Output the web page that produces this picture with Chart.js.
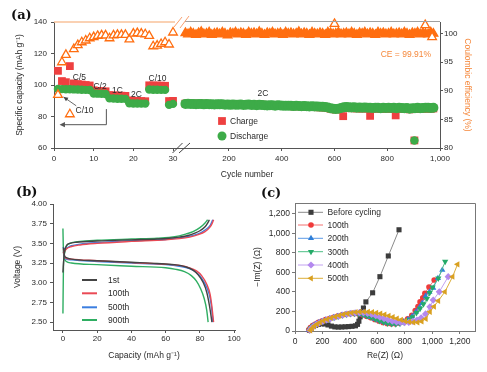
<!DOCTYPE html>
<html><head><meta charset="utf-8">
<script src="https://cdn.jsdelivr.net/npm/chart.js@4.4.0/dist/chart.umd.min.js"></script>
<style>
html,body{margin:0;padding:0;background:#fff;}
#wrap{position:relative;width:487px;height:372px;background:#fff;overflow:hidden;}
canvas{position:absolute;}
.lbl{position:absolute;font:bold 13px "DejaVu Serif",serif;color:#111;line-height:15px;}
</style></head><body>
<div id="wrap">
<canvas id="ca" width="487" height="186" style="left:0px;top:0px"></canvas>
<canvas id="cb" width="245" height="182" style="left:0px;top:190px"></canvas>
<canvas id="cc" width="242" height="182" style="left:245px;top:190px"></canvas>
<div class="lbl" style="left:11px;top:7px">(a)</div>
<div class="lbl" style="left:16px;top:184px">(b)</div>
<div class="lbl" style="left:261px;top:185px">(c)</div>
</div>
<script>
// ---------------- Panel (a) data ----------------
const earlyCycles = [1,2,3,4,5,6,7,8,9,10,11,12,13,14,15,16,17,18,19,20,21,22,23,24,25,26,27,28,29,30];
const earlyCharge = [109.0,102.5,101.8,112.0,101.0,100.6,100.3,100.0,99.7,96.6,96.3,96.1,96.0,93.6,93.4,93.3,93.2,93.1,90.2,90.0,89.9,89.8,89.7,99.8,99.7,99.7,99.6,99.5,89.8,89.9];
const earlyDischarge = [97.5,97.4,97.3,97.3,97.2,97.1,97.0,96.9,96.8,94.6,94.5,94.4,94.3,91.5,91.4,91.3,91.3,91.2,88.4,88.3,88.3,88.2,88.2,97.1,97.0,97.0,96.9,96.9,87.4,88.0];
const earlyCE = [89.3,95.0,96.3,85.9,97.3,98.0,98.5,98.8,99.2,99.4,99.6,99.7,99.7,99.2,99.7,99.8,99.8,99.8,99.0,100.0,100.1,100.0,99.9,99.6,97.8,97.9,98.2,98.5,98.1,100.2];

const lateCycles = [35,45,55,65,75,85,95,105,115,125,135,145,155,165,175,185,195,205,215,225,
235,245,255,265,275,285,295,305,315,325,335,345,355,365,375,385,395,405,415,425,
435,445,455,465,475,485,495,505,515,525,535,545,555,565,575,585,595,605,615,625,
635,645,655,665,675,685,695,705,715,725,735,745,755,765,775,785,795,805,815,825,
835,845,855,865,875,885,895,905,915,925,935,945,955,965,975];
const lateDischarge = [88.0,88.1,87.9,88.0,87.8,88.0,87.9,87.7,87.9,87.8,
87.8,87.6,87.8,87.7,87.8,87.5,87.6,87.4,87.6,87.5,
87.5,87.6,87.3,87.5,87.6,87.3,87.4,87.2,87.4,87.3,
87.2,87.0,87.2,87.1,86.9,87.1,87.0,86.8,86.9,86.8,
86.8,86.6,86.8,86.7,86.5,86.6,86.5,86.3,86.5,86.4,
86.3,86.2,86.2,86.0,85.7,85.3,85.0,84.8,85.0,85.4,
85.8,86.0,85.9,85.7,85.8,85.6,85.7,85.5,85.7,85.6,
85.6,85.4,85.6,85.5,85.3,85.5,85.4,85.6,85.4,85.5,
85.3,85.5,85.4,85.2,85.4,85.0,85.2,85.3,85.5,85.3,
85.4,85.6,85.5,85.4,85.6];
const lateCharge = [88.2,88.3,88.1,88.2,88.0,88.2,88.1,87.9,88.1,88.0,
88.0,87.8,88.0,87.9,88.0,87.7,87.8,87.6,87.8,87.7,
87.7,87.8,87.5,87.7,87.8,87.5,87.6,87.4,87.6,87.5,
87.3,87.1,87.3,87.2,87.0,87.2,87.1,86.9,87.0,86.9,
86.7,86.4,86.6,86.5,86.3,86.4,86.2,86.0,86.1,86.0,
85.9,85.8,85.8,85.6,85.3,84.9,84.6,84.4,84.6,85.0,
85.3,85.5,85.4,85.2,85.3,85.1,85.2,85.0,85.2,85.1,
85.1,84.9,85.1,85.0,84.8,85.0,84.9,85.1,84.9,85.0,
84.8,85.0,84.9,84.7,84.9,84.5,84.7,84.8,85.0,84.8,
84.9,85.1,85.0,84.9,85.1];
const lateCE = [100.1,99.9,100.2,100.0,99.8,100.1,100.3,99.9,100.0,100.2,
99.8,100.0,100.1,99.9,100.2,100.0,99.7,100.1,100.0,100.2,
99.9,100.1,100.0,99.8,100.2,100.0,100.1,99.9,100.3,100.0,
99.8,100.1,100.0,100.2,99.9,100.0,100.1,99.8,100.2,100.0,
100.1,99.9,100.0,100.3,99.9,100.1,100.0,99.8,100.2,100.0,
99.9,100.1,100.0,99.8,100.2,100.1,99.9,100.0,100.2,99.9,
100.0,100.1,99.9,100.2,100.0,99.8,100.1,100.0,100.2,99.9,
100.1,100.0,99.8,100.2,100.0,100.1,99.9,100.0,100.2,99.9,
100.0,100.1,99.9,100.2,100.0,99.8,100.1,100.0,100.2,99.9,
100.1,100.0,99.9,100.2,100.0];
const outlierChargeCycles = [633,735,832,903];
const outlierChargeValues = [80.2,80.4,80.7,64.8];
const outlierDischargeCycles = [903];
const outlierDischargeValues = [64.8];
const outlierCECycles = [600,944,970];
const outlierCEValues = [101.7,101.5,99.4];

const cycleTickValues = [0,10,20,30,200,400,600,800,1000];
const capacityTicks = [60,80,100,120,140];
const ceTicks = [80,85,90,95,100];

// ---------------- Panel (b) data: [capacity, voltage] ----------------
const c1Charge = [[0,3.13],[0.5,3.30],[1,3.40],[2,3.47],[4,3.50],[8,3.515],[20,3.53],[40,3.545],[55,3.555],[62,3.565],[68,3.58],[73,3.60],[77,3.63],[80,3.66],[83,3.71],[84.6,3.76],[85.5,3.80]];
const c1Discharge = [[0.3,3.45],[1,3.34],[2,3.32],[5,3.30],[20,3.28],[40,3.26],[55,3.245],[65,3.23],[72,3.20],[76,3.16],[79,3.10],[82,3.00],[84,2.88],[85.5,2.72],[86.5,2.58],[87,2.50]];
const c100Charge = [[0,3.38],[1,3.40],[2,3.43],[5,3.46],[10,3.48],[20,3.50],[40,3.525],[60,3.545],[68,3.56],[74,3.58],[79,3.61],[83,3.65],[86,3.71],[87.3,3.76],[88,3.80]];
const c100Discharge = [[0.3,3.43],[1,3.33],[2,3.31],[5,3.30],[20,3.28],[40,3.255],[60,3.235],[68,3.22],[74,3.19],[78,3.15],[81,3.09],[84,2.98],[86,2.85],[87,2.70],[87.6,2.58],[88,2.50]];
const c500Charge = [[0,3.45],[1,3.43],[2,3.44],[5,3.47],[10,3.49],[20,3.51],[40,3.535],[60,3.55],[68,3.57],[74,3.59],[79,3.62],[83,3.67],[86,3.73],[87.5,3.80]];
const c500Discharge = [[0.3,3.40],[1,3.32],[2,3.30],[5,3.29],[20,3.27],[40,3.25],[60,3.23],[68,3.21],[74,3.18],[78,3.13],[81,3.06],[84,2.94],[86,2.80],[87,2.65],[87.6,2.50]];
const c900Charge = [[0,2.61],[0.3,3.20],[1,3.38],[2,3.46],[4,3.50],[10,3.525],[20,3.54],[40,3.555],[55,3.565],[62,3.575],[68,3.595],[72,3.62],[76,3.65],[80,3.70],[83,3.76],[84.5,3.80]];
const c900Discharge = [[0,3.69],[0.3,3.40],[1,3.30],[2,3.27],[5,3.25],[20,3.23],[40,3.21],[60,3.19],[66,3.17],[71,3.14],[75,3.09],[78,3.02],[80.5,2.92],[82.5,2.80],[84,2.65],[84.8,2.50]];
const capTicks = [0,20,40,60,80,100];
const voltTicks = [2.50,2.75,3.00,3.25,3.50,3.75,4.00];
const cycleLabelsB = ['1st','100th','500th','900th'];

// ---------------- Panel (c) data: [Re(Z), -Im(Z)] ----------------
const eisBefore = [[105,8],[118,28],[132,45],[150,58],[170,68],[192,74],[215,72],[240,62],[265,50],[290,42],[315,40],[340,41],[365,43],[390,45],[415,48],[440,53],[455,68],[465,100],[474,145],[484,195],[498,235],[516,298],[565,391],[618,556],[679,768],[757,1036]];
const eis100 = [[100,12],[112,35],[128,55],[148,72],[170,88],[195,102],[222,116],[250,128],[280,140],[310,152],[340,163],[370,172],[400,178],[430,180],[460,176],[490,166],[520,152],[550,136],[580,118],[610,102],[640,88],[670,78],[700,73],[730,74],[760,82],[790,98],[820,125],[850,160],[875,210],[895,250],[910,298],[930,340],[945,385],[975,450],[1013,522]];
const eis200 = [[102,10],[114,33],[130,53],[150,70],[172,86],[197,100],[224,114],[252,127],[282,139],[312,151],[342,162],[372,171],[402,177],[432,180],[462,177],[492,169],[522,156],[552,141],[582,124],[612,108],[642,94],[672,83],[702,76],[732,75],[762,80],[792,94],[822,118],[852,150],[880,195],[905,240],[925,285],[950,357],[978,400],[1006,440],[1040,540],[1072,624]];
const eis300 = [[104,8],[116,30],[132,50],[152,67],[174,83],[199,97],[226,111],[254,124],[284,136],[314,148],[344,159],[374,168],[404,174],[434,177],[464,174],[494,166],[524,153],[554,138],[584,121],[614,104],[644,90],[674,79],[704,72],[734,71],[764,76],[794,89],[824,112],[854,144],[884,185],[910,230],[935,275],[960,330],[980,390],[1001,446],[1043,539],[1093,710]];
const eis400 = [[108,8],[120,30],[136,50],[156,68],[178,84],[203,99],[230,113],[258,126],[288,139],[318,151],[348,162],[378,172],[408,180],[438,186],[468,188],[498,186],[528,180],[558,170],[588,157],[618,142],[648,127],[678,113],[708,101],[738,92],[768,87],[798,86],[828,89],[858,98],[888,112],[918,135],[950,175],[982,247],[1006,316],[1050,401],[1115,556]];
const eis500 = [[112,6],[124,28],[140,50],[160,70],[182,88],[207,104],[234,119],[262,133],[292,146],[322,158],[352,169],[382,178],[412,186],[442,192],[472,196],[502,197],[532,196],[562,192],[592,186],[622,178],[652,168],[682,156],[712,143],[742,128],[772,114],[802,102],[832,93],[862,88],[892,88],[922,98],[952,125],[982,196],[1012,250],[1043,309],[1091,401],[1147,556],[1183,683]];
const eisLabels = ['Before cycling','100th','200th','300th','400th','500th'];
const eisTicks = [0,200,400,600,800,1000,1200];

// ---------------- common ----------------
const FONT = '"Liberation Sans", Arial, Helvetica, sans-serif';
const TXT = '#2a2a2a';
const AX = '#555';
const RED = '#ee4040', GREEN = '#3dab48', ORANGE = '#ff6e10', ORANGE_T = '#f5883c';

function cycleToAxis(c){ return c <= 30 ? c : 44.1 + (c - 200) * 0.0665; }
const cyclePts = (xs, ys) => xs.map((c, i) => ({x: cycleToAxis(c), y: ys[i]}));
const pairPts = arr => arr.map(p => ({x: p[0], y: p[1]}));
const fixTicks = vals => (s => { s.ticks = vals.map(v => ({value: v})); });
const comma = v => Number(v).toLocaleString('en-US');

function arrowHead(ctx, x, y, ang, size){
  ctx.beginPath();
  ctx.moveTo(x, y);
  ctx.lineTo(x - size*Math.cos(ang - 0.45), y - size*Math.sin(ang - 0.45));
  ctx.lineTo(x - size*Math.cos(ang + 0.45), y - size*Math.sin(ang + 0.45));
  ctx.closePath(); ctx.fill();
}

function axisCommon(size){
  return {
    grid: {drawOnChartArea: false, tickLength: 3, color: AX, tickColor: AX},
    border: {color: AX, width: 1},
    ticks: {font: {family: FONT, size: size}, color: TXT, autoSkip: false, maxRotation: 0}
  };
}

// ---------------- Chart (a) ----------------
const annotA = {
  id: 'annotA',
  afterDraw(chart){
    const {ctx, chartArea: a, scales: {x, y}} = chart;
    const px = c => x.getPixelForValue(cycleToAxis(c));
    const py = v => y.getPixelForValue(v);
    ctx.save();
    const bx = px(30);
    // top border: light orange on the left segment, gray on the right segment
    ctx.strokeStyle = '#f8c29a'; ctx.lineWidth = 1.5;
    ctx.beginPath(); ctx.moveTo(a.left, a.top); ctx.lineTo(bx + 2, a.top); ctx.stroke();
    ctx.strokeStyle = '#a0a0a0'; ctx.lineWidth = 1;
    ctx.beginPath(); ctx.moveTo(bx + 12, a.top - 0.5); ctx.lineTo(a.right, a.top - 0.5); ctx.stroke();
    ctx.strokeStyle = '#f8a070'; ctx.lineWidth = 1;
    ctx.beginPath();
    ctx.moveTo(bx + 1, a.top + 5); ctx.lineTo(bx + 9, a.top - 5);
    ctx.moveTo(bx + 7, a.top + 6); ctx.lineTo(bx + 16, a.top - 6);
    ctx.stroke();
    // axis break marks
    ctx.strokeStyle = '#444';
    ctx.beginPath();
    ctx.moveTo(bx - 0.5, a.bottom + 5); ctx.lineTo(bx + 9.5, a.bottom - 5);
    ctx.moveTo(bx + 6, a.bottom + 5); ctx.lineTo(bx + 17, a.bottom - 5);
    ctx.stroke();
    // rate labels
    ctx.fillStyle = TXT; ctx.font = '8.5px ' + FONT;
    ctx.textAlign = 'center'; ctx.textBaseline = 'middle';
    ctx.fillText('C/5', px(6.4), py(104.5));
    ctx.fillText('C/2', px(11.6), py(98.8));
    ctx.fillText('1C', px(16.0), py(96.1));
    ctx.fillText('2C', px(20.8), py(93.6));
    ctx.fillText('C/10', px(26.1), py(104.1));
    ctx.fillText('C/10', px(7.7), py(83.8));
    ctx.fillText('2C', px(329), py(94.2));
    // arrow from C/10 label to first cycle
    ctx.strokeStyle = '#444'; ctx.fillStyle = '#444'; ctx.lineWidth = 0.8;
    const x1 = px(5.6), y1 = py(86.8), x2 = px(2.4), y2 = py(92.4);
    ctx.beginPath(); ctx.moveTo(x1, y1); ctx.lineTo(x2, y2); ctx.stroke();
    arrowHead(ctx, x2, y2, Math.atan2(y2 - y1, x2 - x1), 5);
    // bracket arrow pointing to the left axis
    const bxr = px(13.2), byt = py(84.7), byb = py(74.8), bxl = px(1.4);
    ctx.strokeStyle = '#555'; ctx.lineWidth = 1;
    ctx.beginPath(); ctx.moveTo(bxr, byt); ctx.lineTo(bxr, byb); ctx.lineTo(bxl + 4, byb); ctx.stroke();
    ctx.fillStyle = '#555';
    arrowHead(ctx, bxl, byb, Math.PI, 6);
    // legend
    ctx.textAlign = 'left'; ctx.font = '8.5px ' + FONT;
    ctx.fillStyle = RED;
    Chart.helpers.drawPoint(ctx, {pointStyle: 'rect', radius: 5.5, borderWidth: 0}, 222, 121);
    ctx.fillStyle = GREEN;
    Chart.helpers.drawPoint(ctx, {pointStyle: 'circle', radius: 4.5, borderWidth: 0}, 222, 136);
    ctx.fillStyle = TXT;
    ctx.fillText('Charge', 230, 121.5);
    ctx.fillText('Discharge', 230, 136.5);
    // CE value
    ctx.fillStyle = ORANGE_T; ctx.textAlign = 'right'; ctx.font = '8.5px ' + FONT;
    ctx.fillText('CE = 99.91%', 431, 55);
    ctx.restore();
  }
};

const baseA = axisCommon(8);
new Chart(document.getElementById('ca'), {
  type: 'scatter',
  data: {
    datasets: [
      {label: 'CE', data: cyclePts(earlyCycles, earlyCE), yAxisID: 'y2', pointStyle: 'triangle', pointRadius: 5,
       pointBorderColor: ORANGE, pointBackgroundColor: '#fff', pointBorderWidth: 1.3, clip: false},
      {label: 'CE outliers', data: cyclePts(outlierCECycles, outlierCEValues), yAxisID: 'y2', pointStyle: 'triangle', pointRadius: 5,
       pointBorderColor: ORANGE, pointBackgroundColor: '#fff', pointBorderWidth: 1.3, clip: false},
      {label: 'CE late', data: cyclePts(lateCycles, lateCE), yAxisID: 'y2', pointStyle: 'triangle', pointRadius: 5.2,
       pointBorderColor: ORANGE, pointBackgroundColor: ORANGE, pointBorderWidth: 1.2, clip: false},
      {label: 'Discharge outlier', data: cyclePts(outlierDischargeCycles, outlierDischargeValues), yAxisID: 'y', pointStyle: 'circle', pointRadius: 4.2,
       pointBackgroundColor: GREEN, pointBorderColor: GREEN, pointBorderWidth: 0, clip: false},
      {label: 'Discharge early', data: cyclePts(earlyCycles, earlyDischarge), yAxisID: 'y', pointStyle: 'circle', pointRadius: 4.2,
       pointBackgroundColor: GREEN, pointBorderColor: GREEN, pointBorderWidth: 0, clip: false},
      {label: 'Discharge late', data: cyclePts(lateCycles, lateDischarge), yAxisID: 'y', pointStyle: 'circle', pointRadius: 5,
       pointBackgroundColor: GREEN, pointBorderColor: GREEN, pointBorderWidth: 0, clip: false},
      {label: 'Charge outliers', data: cyclePts(outlierChargeCycles, outlierChargeValues), yAxisID: 'y', pointStyle: 'rect', pointRadius: 5.5,
       pointBackgroundColor: RED, pointBorderColor: RED, pointBorderWidth: 0, clip: false},
      {label: 'Charge', data: cyclePts(earlyCycles, earlyCharge).concat(cyclePts(lateCycles, lateCharge)), yAxisID: 'y', pointStyle: 'rect', pointRadius: 5.5,
       pointBackgroundColor: RED, pointBorderColor: RED, pointBorderWidth: 0, clip: false}
    ]
  },
  options: {
    responsive: false, animation: false, devicePixelRatio: 1,
    layout: {padding: {top: 22, left: 0, right: 0, bottom: 0}},
    plugins: {legend: {display: false}, tooltip: {enabled: false}},
    scales: {
      x: {type: 'linear', min: 0, max: 97.3,
        afterBuildTicks: s => { s.ticks = cycleTickValues.map(c => ({value: cycleToAxis(c)})); },
        afterFit: s => { s.height = 38; },
        grid: baseA.grid, border: baseA.border,
        ticks: Object.assign({}, baseA.ticks, {padding: 3, callback: (v, i) => comma(cycleTickValues[i])}),
        title: {display: true, text: 'Cycle number', font: {family: FONT, size: 8.5}, color: TXT, padding: {top: 0, bottom: 6}}
      },
      y: {type: 'linear', position: 'left', min: 60, max: 140,
        afterBuildTicks: fixTicks(capacityTicks),
        afterFit: s => { s.width = 54; },
        grid: baseA.grid, border: baseA.border,
        ticks: Object.assign({}, baseA.ticks, {padding: 4}),
        title: {display: true, text: 'Specific capacity (mAh g⁻¹)', font: {family: FONT, size: 8.5}, color: TXT, padding: {top: 15, bottom: 0}}
      },
      y2: {type: 'linear', position: 'right', min: 80, max: 102.04,
        afterBuildTicks: fixTicks(ceTicks),
        afterFit: s => { s.width = 47; },
        grid: baseA.grid, border: baseA.border,
        ticks: Object.assign({}, baseA.ticks, {padding: 1}),
        title: {display: true, text: 'Coulombic efficiency (%)', font: {family: FONT, size: 8.5}, color: ORANGE_T, padding: {top: 15, bottom: 0}}
      }
    }
  },
  plugins: [annotA]
});

// ---------------- Chart (b) ----------------
const colorsB = ['#444444', '#ea4a55', '#3b7ee0', '#2fae62'];
const curvesB = [[c1Charge, c1Discharge], [c100Charge, c100Discharge], [c500Charge, c500Discharge], [c900Charge, c900Discharge]];
const dsB = [];
curvesB.forEach((pair, i) => {
  pair.forEach(curve => {
    dsB.push({label: cycleLabelsB[i], data: pairPts(curve), showLine: true, pointRadius: 0,
      borderColor: colorsB[i], borderWidth: 1.4, cubicInterpolationMode: 'monotone', clip: false});
  });
});
const legendB = {
  id: 'legendB',
  afterDraw(chart){
    const ctx = chart.ctx;
    ctx.save();
    ctx.font = '8.5px ' + FONT; ctx.textBaseline = 'middle'; ctx.textAlign = 'left';
    const ys = [90, 103.3, 117.3, 130];
    cycleLabelsB.forEach((t, i) => {
      ctx.strokeStyle = colorsB[i]; ctx.lineWidth = 2;
      ctx.beginPath(); ctx.moveTo(82, ys[i]); ctx.lineTo(97, ys[i]); ctx.stroke();
      ctx.fillStyle = TXT; ctx.fillText(t, 108, ys[i] + 0.5);
    });
    ctx.restore();
  }
};
const baseB = axisCommon(8);
new Chart(document.getElementById('cb'), {
  type: 'scatter',
  data: {datasets: dsB},
  options: {
    responsive: false, animation: false, devicePixelRatio: 1,
    layout: {padding: {top: 14, left: 0, right: 10, bottom: 0}},
    plugins: {legend: {display: false}, tooltip: {enabled: false}},
    scales: {
      x: {type: 'linear', min: -5.8, max: 100.5,
        afterBuildTicks: fixTicks(capTicks),
        afterFit: s => { s.height = 42; },
        grid: baseB.grid, border: baseB.border,
        ticks: Object.assign({}, baseB.ticks, {padding: 1}),
        title: {display: true, text: 'Capacity (mAh g⁻¹)', font: {family: FONT, size: 8.5}, color: TXT, padding: {top: 0, bottom: 11}}
      },
      y: {type: 'linear', min: 2.40, max: 4.00,
        afterBuildTicks: fixTicks(voltTicks),
        afterFit: s => { s.width = 53; },
        grid: baseB.grid, border: baseB.border,
        ticks: Object.assign({}, baseB.ticks, {padding: 3, callback: v => Number(v).toFixed(2)}),
        title: {display: true, text: 'Voltage (V)', font: {family: FONT, size: 8.5}, color: TXT, padding: {top: 13, bottom: 0}}
      }
    }
  },
  plugins: [legendB]
});

// ---------------- Chart (c) ----------------
const seriesC = [
  {data: eisBefore, line: '#8a8a8a', mark: '#3c3c3c', style: 'rect', r: 3.6, rot: 0},
  {data: eis100, line: '#f27070', mark: '#f03a3a', style: 'circle', r: 2.8, rot: 0},
  {data: eis200, line: '#5d9ae6', mark: '#2f7fd8', style: 'triangle', r: 3.6, rot: 0},
  {data: eis300, line: '#4dbf85', mark: '#25aa68', style: 'triangle', r: 3.6, rot: 180},
  {data: eis400, line: '#c2a2f0', mark: '#b388ee', style: 'rectRot', r: 3.6, rot: 0},
  {data: eis500, line: '#dcae3a', mark: '#d9a020', style: 'triangle', r: 3.6, rot: 270}
];
const dsC = seriesC.map((s, i) => ({
  label: eisLabels[i], data: pairPts(s.data), showLine: true, borderColor: s.line, borderWidth: 1,
  pointStyle: s.style, pointRadius: s.r, pointRotation: s.rot,
  pointBackgroundColor: s.mark, pointBorderColor: s.mark, pointBorderWidth: 0, clip: false
})).reverse();
const annotC = {
  id: 'annotC',
  afterDraw(chart){
    const {ctx, chartArea: a} = chart;
    ctx.save();
    ctx.strokeStyle = '#777'; ctx.lineWidth = 1;
    ctx.beginPath();
    ctx.moveTo(a.left, a.top + 0.5); ctx.lineTo(a.right + 0.5, a.top + 0.5); ctx.lineTo(a.right + 0.5, a.bottom);
    ctx.stroke();
    ctx.font = '8.5px ' + FONT; ctx.textBaseline = 'middle'; ctx.textAlign = 'left';
    const ys = [22.3, 35, 48.3, 61.7, 75, 88.3];
    seriesC.forEach((s, i) => {
      ctx.strokeStyle = s.line; ctx.lineWidth = 1;
      ctx.beginPath(); ctx.moveTo(53, ys[i]); ctx.lineTo(78, ys[i]); ctx.stroke();
      ctx.fillStyle = s.mark;
      Chart.helpers.drawPoint(ctx, {pointStyle: s.style, radius: s.r, rotation: s.rot, borderWidth: 0}, 66, ys[i]);
      ctx.fillStyle = TXT;
      ctx.fillText(eisLabels[i], 82.5, ys[i] + 0.5);
    });
    ctx.restore();
  }
};
const baseC = axisCommon(8.5);
baseC.border.color = '#777'; baseC.grid.color = '#777'; baseC.grid.tickColor = '#777';
new Chart(document.getElementById('cc'), {
  type: 'scatter',
  data: {datasets: dsC},
  options: {
    responsive: false, animation: false, devicePixelRatio: 1,
    layout: {padding: {top: 13, left: 0, right: 12, bottom: 0}},
    plugins: {legend: {display: false}, tooltip: {enabled: false}},
    scales: {
      x: {type: 'linear', min: 0, max: 1310,
        afterBuildTicks: fixTicks(eisTicks),
        afterFit: s => { s.height = 41; },
        grid: baseC.grid, border: baseC.border,
        ticks: Object.assign({}, baseC.ticks, {padding: 3, callback: v => comma(v)}),
        title: {display: true, text: 'Re(Z) (Ω)', font: {family: FONT, size: 8.5}, color: TXT, padding: {top: 0, bottom: 11}}
      },
      y: {type: 'linear', min: 0, max: 1310,
        afterBuildTicks: fixTicks(eisTicks),
        afterFit: s => { s.width = 50; },
        grid: baseC.grid, border: baseC.border,
        ticks: Object.assign({}, baseC.ticks, {padding: 2, callback: v => comma(v)}),
        title: {display: true, text: '−Im(Z) (Ω)', font: {family: FONT, size: 8.5}, color: TXT, padding: {top: 8, bottom: 0}}
      }
    }
  },
  plugins: [annotC]
});
</script>
</body></html>
